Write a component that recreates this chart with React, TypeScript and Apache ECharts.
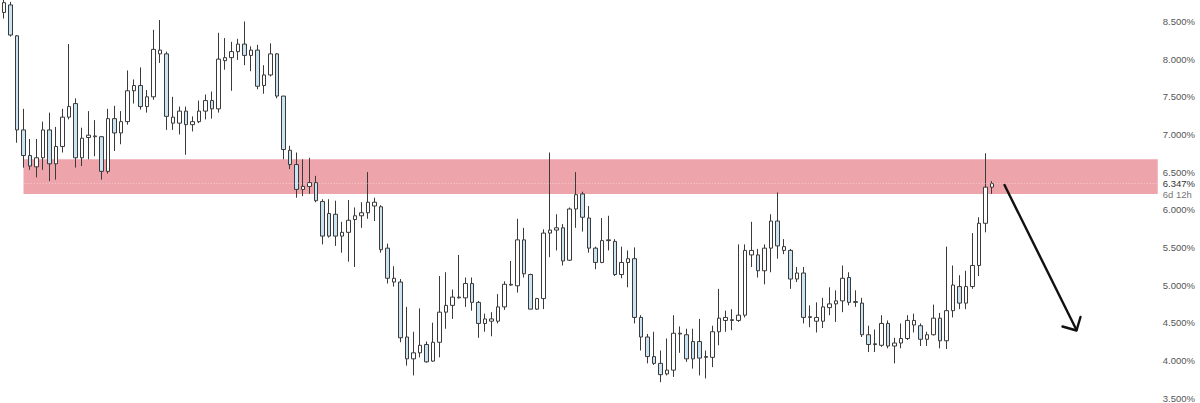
import React, { useEffect, useRef } from 'react';
import * as echarts from 'echarts';

// Weekly candles, yield in %
const opens = [
  8.62, 8.72, 8.31, 7.06, 6.72, 6.57, 6.69, 7.06, 6.61, 6.84,
  7.23, 7.41, 6.69, 6.96, 6.97, 6.97, 6.51, 7.21, 7.02, 7.17,
  7.58, 7.65, 7.37, 7.5, 8.07, 8.07, 7.15, 7.15, 7.31, 7.13,
  7.17, 7.31, 7.45, 7.34, 7.98, 8.02, 8.1, 8.2, 8.05, 8.12,
  7.65, 7.79, 8.07, 7.51, 6.79, 6.6, 6.27, 6.31, 6.36, 6.11,
  5.95, 5.94, 5.65, 5.7, 5.87, 5.92, 5.96, 6.05, 6.04, 5.49,
  5.04, 5.04, 4.31, 4.02, 4.1, 4.21, 3.99, 4.24, 4.64, 4.73,
  4.83, 4.83, 5.02, 4.77, 4.49, 4.52, 4.52, 4.71, 5.0, 4.99,
  5.6, 5.14, 4.68, 4.82, 5.69, 5.73, 5.76, 5.33, 6.01, 6.21,
  5.89, 5.49, 5.3, 5.59, 5.58, 5.14, 5.3, 5.35, 4.57, 4.31,
  4.05, 3.96, 3.82, 3.87, 4.36, 4.34, 4.25, 4.25, 4.04, 4.04,
  4.38, 4.53, 4.54, 4.53, 4.6, 5.4, 5.4, 5.19, 5.49, 5.85,
  5.46, 5.46, 5.08, 5.16, 4.58, 4.52, 4.52, 4.7, 4.75, 4.79,
  5.1, 4.78, 4.76, 4.34, 4.22, 4.2, 4.49, 4.19, 4.23, 4.29,
  4.47, 4.46, 4.28, 4.34, 4.56, 4.26, 4.66, 4.98, 4.76, 4.98,
  5.26, 5.82, 6.3,
];
const closes = [
  8.75, 8.32, 7.06, 6.72, 6.58, 6.69, 7.06, 6.61, 6.84, 7.23,
  7.37, 6.69, 6.95, 6.99, 6.98, 6.51, 7.21, 7.02, 7.17, 7.58,
  7.65, 7.37, 7.5, 8.13, 8.12, 7.24, 7.23, 7.31, 7.13, 7.17,
  7.31, 7.45, 7.34, 8.0, 8.02, 8.1, 8.2, 8.05, 8.12, 7.64,
  7.79, 8.07, 7.51, 6.8, 6.6, 6.27, 6.31, 6.36, 6.12, 5.65,
  5.65, 5.65, 5.7, 5.86, 5.92, 5.96, 6.1, 6.1, 5.47, 5.09,
  5.09, 4.3, 4.02, 4.1, 4.2, 3.98, 4.24, 4.64, 4.73, 4.84,
  4.84, 5.02, 4.77, 4.49, 4.55, 4.55, 4.71, 5.01, 5.01, 5.6,
  5.15, 4.68, 4.82, 5.69, 5.73, 5.76, 5.32, 6.01, 6.2, 5.9,
  5.49, 5.3, 5.59, 5.6, 5.14, 5.3, 5.35, 4.57, 4.31, 4.05,
  3.96, 3.81, 3.87, 4.36, 4.35, 4.02, 4.02, 4.03, 4.05, 4.38,
  4.56, 4.57, 4.53, 4.6, 5.46, 5.46, 5.19, 5.49, 5.85, 5.52,
  5.51, 5.08, 5.16, 4.57, 4.57, 4.57, 4.71, 4.75, 4.79, 5.09,
  4.77, 4.77, 4.34, 4.21, 4.21, 4.49, 4.19, 4.23, 4.29, 4.53,
  4.53, 4.28, 4.34, 4.56, 4.26, 4.66, 5.0, 4.76, 4.98, 5.26,
  5.82, 6.3, 6.347,
];
const lows = [
  8.54, 8.3, 6.89, 6.56, 6.53, 6.43, 6.53, 6.38, 6.4, 6.76,
  7.2, 6.56, 6.58, 6.67, 6.71, 6.4, 6.48, 6.78, 6.87, 7.13,
  7.41, 7.33, 7.29, 7.46, 7.95, 7.06, 7.06, 7.0, 6.73, 7.04,
  7.15, 7.2, 7.21, 7.29, 7.86, 7.58, 7.99, 7.92, 7.84, 7.6,
  7.54, 7.77, 7.48, 6.67, 6.54, 6.16, 6.18, 6.21, 6.1, 5.54,
  5.63, 5.52, 5.43, 5.31, 5.24, 5.76, 5.88, 5.85, 5.43, 5.02,
  4.98, 4.24, 3.93, 3.8, 4.04, 3.97, 3.98, 4.04, 4.42, 4.55,
  4.82, 4.71, 4.66, 4.3, 4.38, 4.32, 4.49, 4.67, 4.99, 4.9,
  5.1, 4.68, 4.67, 4.68, 5.37, 5.46, 5.26, 5.32, 5.76, 5.71,
  5.43, 5.21, 5.29, 5.46, 5.12, 5.09, 4.97, 4.49, 4.13, 3.96,
  3.94, 3.71, 3.8, 3.78, 4.1, 3.98, 3.89, 3.8, 3.76, 3.91,
  4.2, 4.38, 4.4, 4.51, 4.57, 5.24, 5.1, 5.01, 5.17, 5.35,
  5.41, 4.95, 5.04, 4.49, 4.44, 4.37, 4.43, 4.6, 4.51, 4.64,
  4.73, 4.71, 4.31, 4.11, 4.11, 4.18, 4.16, 3.96, 4.16, 4.27,
  4.37, 4.19, 4.19, 4.33, 4.16, 4.15, 4.57, 4.68, 4.68, 4.95,
  5.12, 5.7, 6.21,
];
const highs = [
  8.8, 8.76, 8.32, 7.34, 6.94, 6.94, 7.17, 7.29, 7.1, 7.34,
  8.2, 7.48, 7.09, 7.31, 7.19, 6.98, 7.34, 7.38, 7.31, 7.85,
  7.73, 7.89, 7.59, 8.39, 8.52, 8.1, 7.5, 7.37, 7.37, 7.24,
  7.45, 7.53, 7.57, 8.35, 8.28, 8.23, 8.27, 8.5, 8.17, 8.19,
  7.92, 8.21, 8.08, 7.51, 6.85, 6.76, 6.67, 6.69, 6.45, 6.14,
  6.14, 6.12, 5.84, 6.13, 6.03, 6.1, 6.5, 6.16, 6.06, 5.55,
  5.25, 5.08, 4.71, 4.38, 4.69, 4.25, 4.5, 5.12, 5.17, 4.94,
  5.4, 5.1, 5.1, 4.79, 4.62, 4.64, 4.88, 5.05, 5.32, 5.88,
  5.76, 5.15, 4.83, 5.74, 6.76, 5.94, 5.81, 6.03, 6.5, 6.24,
  6.05, 5.51, 5.89, 5.92, 5.61, 5.51, 5.46, 5.5, 4.6, 4.35,
  4.38, 4.13, 4.29, 4.6, 4.45, 4.42, 4.42, 4.55, 4.13, 4.46,
  4.95, 4.66, 4.68, 5.54, 5.54, 5.84, 5.48, 5.54, 5.94, 6.23,
  5.61, 5.48, 5.24, 5.24, 4.73, 4.77, 4.83, 4.97, 4.93, 5.26,
  5.17, 4.93, 4.83, 4.46, 4.41, 4.6, 4.53, 4.3, 4.49, 4.6,
  4.62, 4.49, 4.38, 4.74, 4.63, 5.51, 5.26, 5.13, 5.19, 5.69,
  5.9, 6.75, 6.38,
];

// Empty weeks to the right of the last candle
const futureWeeks = 25;
// Resistance zone (%)
const zoneLow = 6.21;
const zoneHigh = 6.67;
const zoneStartIndex = 3;
// Last price marker
const lastPrice = 6.347;
const countdown = '6d 12h';
// Y axis ticks
const yMin = 3.5;
const yMax = 8.5;
const yStep = 0.5;

const FONT = '"Liberation Sans", Arial, sans-serif';

export default function App() {
  const ref = useRef<HTMLDivElement>(null);

  useEffect(() => {
    if (!ref.current) return;
    const chart = echarts.init(ref.current, null, { renderer: 'svg' });
    const total = opens.length + futureWeeks;
    const categories = Array.from({ length: total }, (_, i) => 'W' + (i + 1));
    const candles = categories.map((_, i) =>
      i < opens.length ? [opens[i], closes[i], lows[i], highs[i]] : '-'
    );

    chart.setOption({
      animation: false,
      backgroundColor: '#ffffff',
      grid: { left: 0.75, top: 21.5, width: 1157, height: 378, containLabel: false },
      xAxis: {
        type: 'category',
        data: categories,
        show: false,
        boundaryGap: true,
      },
      yAxis: {
        type: 'value',
        position: 'right',
        min: yMin,
        max: yMax,
        interval: yStep,
        axisLine: { show: false },
        axisTick: { show: false },
        splitLine: { show: false },
        axisLabel: {
          margin: 5,
          fontSize: 9.5,
          color: '#555',
          fontFamily: FONT,
          formatter: (v: number) => v.toFixed(3) + '%',
        },
      },
      series: [
        {
          type: 'candlestick',
          data: candles,
          barWidth: 4,
          clip: false,
          itemStyle: {
            color: '#ffffff',
            color0: '#cbe4f4',
            borderColor: '#3a3a3a',
            borderColor0: '#3a3a3a',
            borderWidth: 1,
          },
          markArea: {
            silent: true,
            itemStyle: { color: '#eda5ab' },
            data: [[{ xAxis: zoneStartIndex, yAxis: zoneLow }, { yAxis: zoneHigh }]],
          },
          markLine: {
            silent: true,
            symbol: ['none', 'none'],
            lineStyle: { color: 'rgba(255,255,255,0.45)', type: [1, 2], width: 1 },
            label: {
              show: true,
              position: 'end',
              distance: 5,
              offset: [0, 5.5],
              formatter: '{a|' + lastPrice.toFixed(3) + '%}\n{b|' + countdown + '}',
              rich: {
                a: { fontSize: 9.5, color: '#333', lineHeight: 11, fontFamily: FONT },
                b: { fontSize: 9.5, color: '#777', lineHeight: 11, fontFamily: FONT },
              },
            },
            data: [{ yAxis: lastPrice }],
          },
        },
      ],
      graphic: [
        {
          type: 'line',
          z: 100,
          shape: { x1: 1004.5, y1: 185, x2: 1076.5, y2: 330 },
          style: { stroke: '#111', lineWidth: 2.4, lineCap: 'round' },
        },
        {
          type: 'polyline',
          z: 100,
          shape: { points: [[1062.5, 326.5], [1076.5, 330.5], [1080.5, 317]] },
          style: { stroke: '#111', lineWidth: 2.4, lineCap: 'round', lineJoin: 'round', fill: 'none' },
        },
      ],
    });

    return () => chart.dispose();
  }, []);

  return (
    <div
      ref={ref}
      style={{ position: 'fixed', left: 0, top: 0, width: 1200, height: 403, background: '#fff' }}
    />
  );
}
